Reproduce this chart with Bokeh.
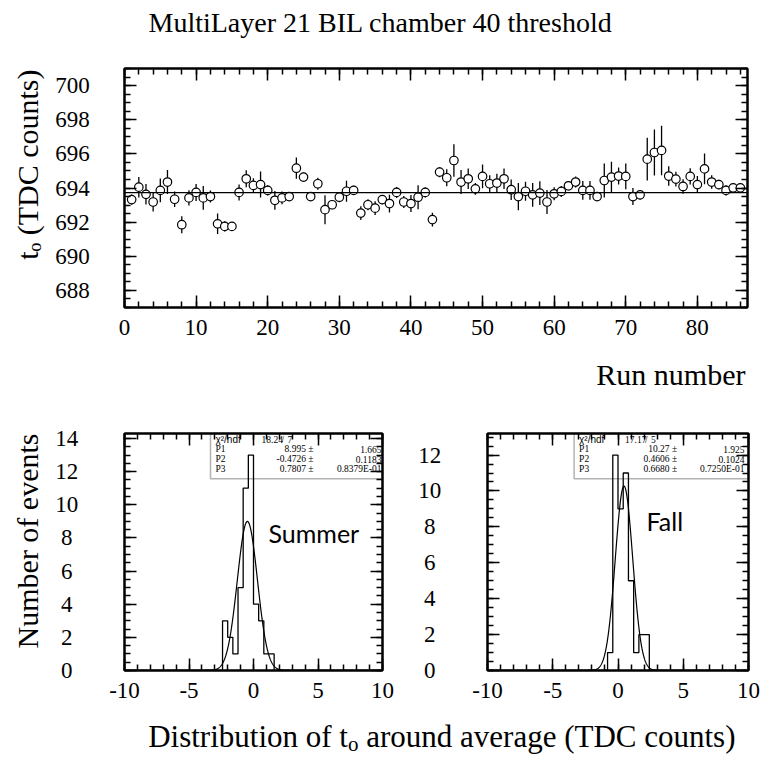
import numpy as np
from bokeh.plotting import figure
from bokeh.layouts import column, row
from bokeh.models import (Range1d, LinearAxis, SingleIntervalTicker, Span, Label, BoxAnnotation,
                          Title, PrintfTickFormatter)
from bokeh.embed import file_html
from bokeh.resources import INLINE

# ---------------- data ----------------
title_text = "MultiLayer 21 BIL chamber 40 threshold"
run_number = list(range(1, 87))
t0_value = [
    693.32, 694.05, 693.63, 693.18, 693.86, 694.35, 693.34, 691.85, 693.42, 693.74,
    693.42, 693.50, 691.90, 691.75, 691.75, 693.74, 694.54, 694.15, 694.20, 693.86,
    693.28, 693.42, 693.50, 695.16, 694.64, 693.50, 694.25, 692.73, 693.02, 693.46,
    693.81, 693.86, 692.53, 693.02, 692.82, 693.32, 693.09, 693.74, 693.18, 693.09,
    693.46, 693.74, 692.15, 694.93, 694.60, 695.61, 694.35, 694.54, 693.95, 694.68,
    694.25, 694.29, 694.54, 693.90, 693.50, 693.81, 693.60, 693.70, 693.18, 693.66,
    693.80, 694.13, 694.35, 693.86, 693.86, 693.50, 694.44, 694.64, 694.70, 694.68,
    693.50, 693.60, 695.69, 696.08, 696.20, 694.70, 694.52, 694.09, 694.68, 694.20,
    695.12, 694.35, 694.20, 693.86, 694.01, 694.01]
t0_error = [
    0.30, 0.60, 0.60, 0.55, 0.70, 0.70, 0.45, 0.50, 0.45, 0.50,
    0.70, 0.35, 0.60, 0.30, 0.25, 0.47, 0.50, 0.42, 0.76, 0.30,
    0.55, 0.37, 0.25, 0.62, 0.27, 0.25, 0.35, 0.85, 0.27, 0.30,
    0.62, 0.27, 0.40, 0.32, 0.40, 0.27, 0.52, 0.32, 0.35, 0.50,
    0.70, 0.30, 0.40, 0.30, 0.50, 0.95, 0.70, 0.60, 0.35, 0.70,
    0.50, 0.55, 0.60, 0.60, 0.80, 0.55, 0.70, 0.70, 0.70, 0.38,
    0.32, 0.25, 0.32, 0.55, 0.55, 0.25, 1.00, 0.90, 0.50, 0.75,
    0.50, 0.27, 1.25, 1.35, 1.45, 0.57, 0.43, 0.42, 0.47, 0.50,
    0.90, 0.40, 0.28, 0.30, 0.25, 0.25]
t0_average = 693.73

bin_width = 0.4
summer_bin_left = [-2.4, -2.0, -1.6, -1.2, -0.8, -0.4, 0.0, 0.4, 0.8, 1.2]
summer_counts = [3, 2, 1, 5, 11, 13, 4, 3, 1, 1]
summer_fit_p = [8.995, -0.4726, 0.7807]
summer_chi2 = ["18.24", "7"]
summer_stat_rows = [["P1", "8.995 \u00b1", "1.665"],
                    ["P2", "-0.4726 \u00b1", "0.1183"],
                    ["P3", "0.7807 \u00b1", "0.8379E-01"]]

fall_bin_left = [-0.8, -0.4, 0.0, 0.4, 0.8, 1.2, 1.6, 2.0]
fall_counts = [1, 12, 9, 11, 5, 1, 2, 2]
fall_fit_p = [10.27, 0.4606, 0.6680]
fall_chi2 = ["17.17", "5"]
fall_stat_rows = [["P1", "10.27 \u00b1", "1.925"],
                  ["P2", "0.4606 \u00b1", "0.1024"],
                  ["P3", "0.6680 \u00b1", "0.7250E-01"]]

SERIF = "Liberation Serif"
SANS = "Liberation Sans"
TICK_PX = 23
TITLE_PX = 30

TIMES = {'D': 0.722, 'i': 0.278, 's': 0.389, 't': 0.278, 'r': 0.333, 'b': 0.5, 'u': 0.5,
         'o': 0.5, 'n': 0.5, ' ': 0.25, 'f': 0.333, 'a': 0.444, 'v': 0.5, 'e': 0.444,
         'g': 0.5, 'd': 0.5, '(': 0.333, 'T': 0.611, 'C': 0.667, 'c': 0.444, ')': 0.333}


def tw(s, px):
    return sum(TIMES.get(c, 0.5) for c in s) * px


def lab(p, x, y, text, size, font=SERIF, align="left", baseline="alphabetic", angle=0.0):
    p.add_layout(Label(x=x, y=y, x_units="screen", y_units="screen", text=text,
                       text_font=font, text_font_size=f"{size}px", text_align=align,
                       text_baseline=baseline, angle=angle, text_color="black"))


def y_title(p, text, offset, standoff):
    p.add_layout(Title(text=text, align="right", offset=offset, standoff=standoff,
                       vertical_align="top", text_font=SERIF,
                       text_font_size=f"{TITLE_PX}px", text_font_style="normal",
                       text_color="black"), "left")


def make_fig(width, height, xr, yr, borders):
    l, r, t, b = borders
    p = figure(width=width, height=height, x_range=Range1d(*xr), y_range=Range1d(*yr),
               output_backend="svg", toolbar_location=None,
               min_border_left=l, min_border_right=r, min_border_top=t, min_border_bottom=b,
               background_fill_color="white", border_fill_color="white")
    p.grid.visible = False
    p.outline_line_color = "black"
    p.outline_line_width = 2
    return p


def make_strip(height):
    s = figure(width=761, height=height, x_range=Range1d(0, 1), y_range=Range1d(0, 1),
               x_axis_type=None, y_axis_type=None, output_backend="svg",
               toolbar_location=None, min_border=0, outline_line_color=None,
               background_fill_color="white", border_fill_color="white")
    s.grid.visible = False
    return s


def style_axes(p, xint, xminor, yint, yminor, yfmt, ystand=29, xstand=12):
    bx = p.below[0]
    ly = p.left[0]
    tx = LinearAxis()
    ry = LinearAxis()
    p.add_layout(tx, "above")
    p.add_layout(ry, "right")
    for ax in (bx, tx):
        ax.ticker = SingleIntervalTicker(interval=xint, num_minor_ticks=xminor)
        ax.formatter = PrintfTickFormatter(format="%d")
    for ax in (ly, ry):
        ax.ticker = SingleIntervalTicker(interval=yint, num_minor_ticks=yminor)
        ax.formatter = PrintfTickFormatter(format=yfmt)
    for ax in (bx, tx, ly, ry):
        ax.major_tick_in = 12
        ax.major_tick_out = 0
        ax.minor_tick_in = 6
        ax.minor_tick_out = 0
        ax.major_tick_line_width = 1.5
        ax.minor_tick_line_width = 1.5
        ax.axis_line_width = 2
    for ax in (bx, ly):
        ax.major_label_text_font = SERIF
        ax.major_label_text_font_size = f"{TICK_PX}px"
        ax.major_label_text_color = "black"
    for ax in (tx, ry):
        ax.major_label_text_font_size = "0px"
        ax.major_label_text_color = None
        ax.major_label_standoff = 0
    ly.major_label_standoff = ystand
    bx.major_label_standoff = xstand


# ---------------- title strip ----------------
title_strip = make_strip(45)
lab(title_strip, 24, 23, title_text, 28)

# ---------------- top: t0 vs run ----------------
top = make_fig(761, 310, (0, 87), (687, 701), (124, 14, 23, 48))
style_axes(top, 10, 5, 2, 4, "%4d")
t0_arr = np.array(t0_value)
err_arr = np.array(t0_error)
top.segment(x0=run_number, y0=t0_arr - err_arr, x1=run_number, y1=t0_arr + err_arr,
            line_color="black", line_width=1.3)
top.add_layout(Span(location=t0_average, dimension="width", line_color="black", line_width=1.3))
top.scatter(run_number, t0_value, marker="circle", size=8.5, fill_color="white",
            line_color="black", line_width=1.2)
y_title(top, "t\u2092 (TDC counts)", 1, 14)

# ---------------- "Run number" strip ----------------
run_strip = make_strip(45)
lab(run_strip, 621, 26, "Run number", TITLE_PX, align="right")


# ---------------- bottom histograms ----------------
def hist_fig(width, borders, ymax, bin_left, counts, fitp, chi2, rows, box_left, tag, tag_pos):
    p = make_fig(width, 315, (-10, 10), (0, ymax), borders)
    style_axes(p, 5, 5, 2, 4, "%5d")
    xs = [-10] + list(bin_left) + [bin_left[-1] + bin_width, 10]
    ys = [0] + list(counts) + [0, 0]
    p.step(xs, ys, mode="after", line_color="black", line_width=1.3)
    gx = np.linspace(-10, 10, 1001)
    gy = fitp[0] * np.exp(-0.5 * ((gx - fitp[1]) / fitp[2]) ** 2)
    p.line(gx, gy, line_color="black", line_width=1.2)
    p.add_layout(BoxAnnotation(left=box_left, bottom=191.7, left_units="screen",
                               bottom_units="screen", fill_alpha=0, line_color="black",
                               line_width=1.5))
    c0 = box_left + 5
    lab(p, c0, 231, "\u03c7\u00b2/ndf", 10, font=SANS, baseline="middle")
    lab(p, box_left + 51, 231, chi2[0], 9.5, baseline="middle")
    lab(p, box_left + 71, 231, "/", 9.5, baseline="middle")
    lab(p, box_left + 77, 231, chi2[1], 9.5, baseline="middle")
    for i, (name, val, err) in enumerate(rows):
        yy = 221.2 - 10 * i
        lab(p, c0, yy, name, 9.5, baseline="middle")
        lab(p, box_left + 103, yy, val, 9.5, align="right", baseline="middle")
        lab(p, 257, yy, err, 9.5, align="right", baseline="middle")
    lab(p, tag_pos[0], tag_pos[1], tag, 25, font="Lato", baseline="middle")
    return p


left = hist_fig(400, (124, 18, 33, 45), 14.3, summer_bin_left, summer_counts, summer_fit_p,
                summer_chi2, summer_stat_rows, 86, "Summer", (144, 138))
y_title(left, "Number of events", 0, 14)

right = hist_fig(361, (87, 13, 33, 45), 13.2, fall_bin_left, fall_counts, fall_fit_p,
                 fall_chi2, fall_stat_rows, 86.6, "Fall", (159, 150))

# ---------------- bottom strip with x title ----------------
dist_strip = make_strip(45)
XT = 31
x_end = 735 - 124
yb = 24
w_tail = tw("around average (TDC counts)", XT)
gap2 = 0.25 * XT
sub2 = int(XT * 0.68)
lab(dist_strip, x_end, yb, "around average (TDC counts)", XT, align="right")
lab(dist_strip, x_end - w_tail - gap2, yb - 0.25 * XT, "o", sub2, align="right")
lab(dist_strip, x_end - w_tail - gap2 - 0.5 * sub2, yb, "Distribution of t", XT, align="right")

layout = column(title_strip, top, run_strip, row(left, right), dist_strip)
open("out.html", "w").write(file_html(layout, INLINE))
